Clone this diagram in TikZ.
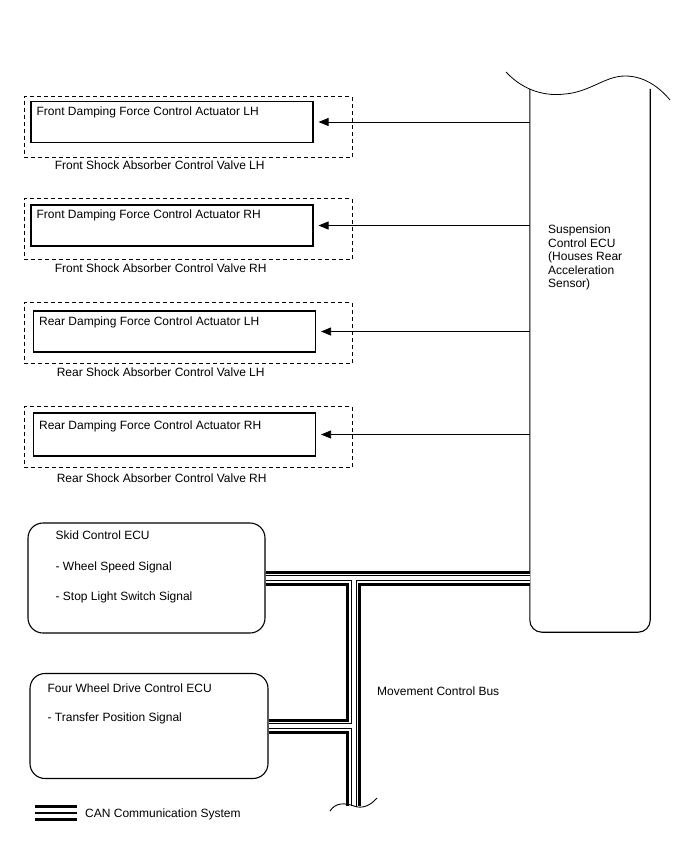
\documentclass[tikz,border=0pt]{standalone}
\usepackage{fontspec}
\setmainfont{Liberation Sans}
\usetikzlibrary{arrows.meta, positioning, calc}

\tikzset{
  valvebox/.style={draw, dash pattern=on 4pt off 3pt, line width=0.9pt, minimum width=328pt, minimum height=61pt, inner sep=0pt},
  actbox/.style={draw, line width=1.1pt, minimum width=282pt, minimum height=41pt, inner sep=0pt},
  ecubox/.style={draw, line width=1.1pt, rounded corners=15pt, minimum width=238pt, minimum height=108pt, inner sep=0pt},
  txt/.style={anchor=base west, inner sep=0pt, font=\fontsize{12}{14}\selectfont},
  sig/.style={-{Triangle[length=10pt,width=8pt]}, line width=0.8pt},
}

\begin{document}
\begin{tikzpicture}[x=1pt, y=-1pt]
  \useasboundingbox (0,0) rectangle (688,852);
  % Suspension ECU
  \node[minimum width=120pt, minimum height=543pt, inner sep=0pt] (ecu) at (590,360.5) {};
  \draw[line width=1.1pt, rounded corners=12pt] (ecu.north west) -- (ecu.south west) -- (ecu.south east) -- (ecu.north east);
  \draw[line width=0.8pt] (506,72) .. controls (520,87) and (540,97) .. (565,94) .. controls (590,92) and (605,76) .. (625,76) .. controls (645,76) and (660,88) .. (670,100);
  \node[txt, anchor=north west, align=left, font=\fontsize{12}{13.4}\selectfont] (ecutxt) at (548,225) {Suspension\\Control ECU\\(Houses Rear\\Acceleration\\Sensor)};
  % Shock absorber control valves
  \node[valvebox] (valve1) at (188,127) {};
  \node[actbox] (act1) at (172,122) {};
  \node[txt] (acttxt1) at ([shift={(6,15)}]act1.north west) {Front Damping Force Control Actuator LH};
  \node[txt] (valvetxt1) at ([shift={(31,12)}]valve1.south west) {Front Shock Absorber Control Valve LH};
  \node[valvebox] (valve2) at (188,229) {};
  \node[actbox] (act2) at (172,225.5) {};
  \node[txt] (acttxt2) at ([shift={(6,14)}]act2.north west) {Front Damping Force Control Actuator RH};
  \node[txt] (valvetxt2) at ([shift={(31,13)}]valve2.south west) {Front Shock Absorber Control Valve RH};
  \node[valvebox] (valve3) at (188,333) {};
  \node[actbox] (act3) at (174.5,331.5) {};
  \node[txt] (acttxt3) at ([shift={(6,15)}]act3.north west) {Rear Damping Force Control Actuator LH};
  \node[txt] (valvetxt3) at ([shift={(33,13)}]valve3.south west) {Rear Shock Absorber Control Valve LH};
  \node[valvebox] (valve4) at (188,437) {};
  \node[actbox, minimum height=43pt] (act4) at (174.5,434.5) {};
  \node[txt] (acttxt4) at ([shift={(6,17)}]act4.north west) {Rear Damping Force Control Actuator RH};
  \node[txt] (valvetxt4) at ([shift={(33,15)}]valve4.south west) {Rear Shock Absorber Control Valve RH};
  % Signals to actuators
  \foreach \i in {1,...,4}
    \draw[sig] (ecu.west |- act\i.east) -- ([xshift=5pt]act\i.east);
  % Other ECUs
  \node[ecubox, minimum width=237pt, minimum height=110pt] (skid) at (146.5,578) {};
  \node[txt] (skidtxt) at ([shift={(28,17)}]skid.north west) {Skid Control ECU};
  \node[txt] (wheeltxt) at ([shift={(28,48)}]skid.north west) {- Wheel Speed Signal};
  \node[txt] (stoptxt) at ([shift={(28,78)}]skid.north west) {- Stop Light Switch Signal};
  \node[ecubox, minimum height=105pt] (fwd) at (149,726) {};
  \node[txt] (fwdtxt) at ([shift={(18,20)}]fwd.north west) {Four Wheel Drive Control ECU};
  \node[txt] (transtxt) at ([shift={(18,49)}]fwd.north west) {- Transfer Position Signal};
  % CAN bus
  \coordinate (bustop) at (353.5,578);
  \coordinate (busend) at (353.5,806);
  \foreach \w/\c in {15/black, 9/white, 6/black, 4/white}
    \draw[line width=\w pt, \c] (skid.east) -- (skid.east -| ecu.west)
      (bustop) -- (busend)
      (fwd.east) -- (fwd.east -| bustop);
  \draw[line width=0.9pt] (330,811) .. controls (336,802) and (345,803) .. (354,806) .. controls (362,809) and (370,806) .. (377,798);
  \node[txt] (bustxt) at (377,695) {Movement Control Bus};
  % Legend
  \coordinate (leg) at (35,812.5);
  \draw[line width=3pt] ([yshift=-6.5pt]leg) -- ++(42,0);
  \draw[line width=2pt] (leg) -- ++(42,0);
  \draw[line width=3pt] ([yshift=6.5pt]leg) -- ++(42,0);
  \node[txt] (legtxt) at (85,817) {CAN Communication System};
\end{tikzpicture}
\end{document}
